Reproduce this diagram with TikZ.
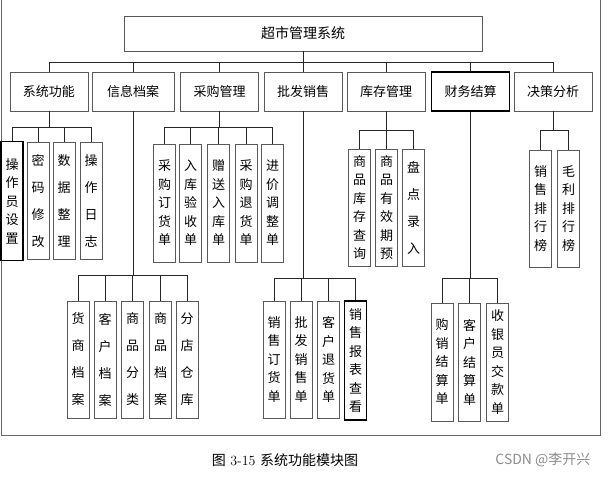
\documentclass[tikz,border=0pt]{standalone}
\usepackage{fontspec}
\newfontfamily\cjk{Noto Sans CJK SC}

\begin{document}
\begin{tikzpicture}[x=1pt, y=-1pt,
        box/.style={draw=black!65, line width=0.8pt, inner sep=0pt, font=\cjk\fontsize{13}{16}\selectfont},
        topbox/.style={box, minimum width=78, minimum height=39},
        leaf/.style={box, minimum width=22, minimum height=117, align=center, font=\cjk\fontsize{13}{18.5}\selectfont},
        sparse/.style={font=\cjk\fontsize{13}{27}\selectfont},
        heavy/.style={draw=black, line width=1.3pt},
        link/.style={black!85, line width=0.9pt}]
        \useasboundingbox (0,0) rectangle (608,477);
        % frame
        \draw[black!60, line width=1pt] (1,0) -- (1,435) -- (600,435) -- (600,0);

        % root and first level
        \node[box, minimum width=358, minimum height=35, font=\cjk\fontsize{14}{16}\selectfont] (root) at (303,33.5) {超市管理系统};
        \node[topbox] (xtgn) at (49,91.5) {系统功能};
        \node[topbox, minimum width=82] (xxda) at (133,91.5) {信息档案};
        \node[topbox] (cggl) at (219.5,91.5) {采购管理};
        \node[topbox] (pfxs) at (303,91.5) {批发销售};
        \node[topbox] (kcgl) at (386,91.5) {库存管理};
        \node[topbox, heavy] (cwjs) at (470.5,91.5) {财务结算};
        \node[topbox] (jcfx) at (553,91.5) {决策分析};
        \coordinate (b0) at (303,62);
        \draw[link] (root) -- (b0);
        \foreach \n in {xtgn,xxda,cggl,pfxs,kcgl,cwjs,jcfx}
            \draw[link] (b0) -| (\n);

        % 系统功能
        \node[leaf, heavy, minimum height=119] (s1) at (12,201) {操\\作\\员\\设\\置};
        \node[leaf, sparse] (s2) at (38,201) {密\\码\\修\\改};
        \node[leaf, sparse] (s3) at (64,201) {数\\据\\整\\理};
        \node[leaf, sparse] (s4) at (91,201) {操\\作\\日\\志};
        \coordinate (bs) at (49,127);
        \draw[link] (xtgn) -- (bs);
        \foreach \n in {s1,s2,s3,s4}
            \draw[link] (bs) -| (\n);

        % 采购管理
        \node[leaf, minimum height=118] (c1) at (164.5,203) {采\\购\\订\\货\\单};
        \node[leaf, minimum height=118] (c2) at (190.5,203) {入\\库\\验\\收\\单};
        \node[leaf, minimum height=118] (c3) at (218.5,203) {赠\\送\\入\\库\\单};
        \node[leaf, minimum height=118] (c4) at (246,203) {采\\购\\退\\货\\单};
        \node[leaf, minimum height=118] (c5) at (272.5,203) {进\\价\\调\\整\\单};
        \coordinate (bc) at (219.5,127);
        \draw[link] (cggl) -- (bc);
        \foreach \n in {c1,c2,c3,c4,c5}
            \draw[link] (bc) -| (\n);

        % 库存管理
        \node[leaf] (k1) at (359.5,207.5) {商\\品\\库\\存\\查\\询};
        \node[leaf] (k2) at (386.5,207.5) {商\\品\\有\\效\\期\\预};
        \node[leaf, sparse] (k3) at (413.5,207.5) {盘\\点\\录\\入};
        \coordinate (bk) at (386,130);
        \draw[link] (kcgl) -- (bk);
        \foreach \n in {k1,k2,k3}
            \draw[link] (bk) -| (\n);

        % 决策分析
        \node[leaf] (j1) at (540.5,208.5) {销\\售\\排\\行\\榜};
        \node[leaf] (j2) at (568.5,208.5) {毛\\利\\排\\行\\榜};
        \coordinate (bj) at (553,130);
        \draw[link] (jcfx) -- (bj);
        \foreach \n in {j1,j2}
            \draw[link] (bj) -| (\n);

        % 信息档案
        \node[leaf, sparse] (x1) at (78,359.5) {货\\商\\档\\案};
        \node[leaf, sparse] (x2) at (105,359.5) {客\\户\\档\\案};
        \node[leaf, sparse] (x3) at (132.5,359.5) {商\\品\\分\\类};
        \node[leaf, sparse] (x4) at (160.5,359.5) {商\\品\\档\\案};
        \node[leaf, sparse] (x5) at (187,359.5) {分\\店\\仓\\库};
        \coordinate (bx) at (133,275);
        \draw[link] (xxda) -- (bx);
        \foreach \n in {x1,x2,x3,x4,x5}
            \draw[link] (bx) -| (\n);

        % 批发销售
        \node[leaf] (p1) at (274,359.5) {销\\售\\订\\货\\单};
        \node[leaf] (p2) at (301,359.5) {批\\发\\销\\售\\单};
        \node[leaf] (p3) at (328.5,359.5) {客\\户\\退\\货\\单};
        \node[leaf, heavy, minimum height=119] (p4) at (355.5,360.5) {销\\售\\报\\表\\查\\看};
        \coordinate (bp) at (303,278);
        \draw[link] (pfxs) -- (bp);
        \foreach \n in {p1,p2,p3,p4}
            \draw[link] (bp) -| (\n);

        % 财务结算
        \node[leaf, minimum height=118] (w1) at (442,362) {购\\销\\结\\算\\单};
        \node[leaf, minimum height=118] (w2) at (469.5,362) {客\\户\\结\\算\\单};
        \node[leaf, minimum height=118] (w3) at (497.5,362) {收\\银\\员\\交\\款\\单};
        \coordinate (bw) at (470.5,278);
        \draw[link] (cwjs) -- (bw);
        \foreach \n in {w1,w2,w3}
            \draw[link] (bw) -| (\n);

        % caption
        \node[font=\fontsize{14}{16}\selectfont] (cap) at (285,460) {{\cjk 图} 3-15 {\cjk 系统功能模块图}};
        \node[anchor=east, text=black!45, font=\cjk\fontsize{14}{16}\selectfont] (wm) at (594,460) {CSDN @李开兴};
    \end{tikzpicture}
\end{document}
